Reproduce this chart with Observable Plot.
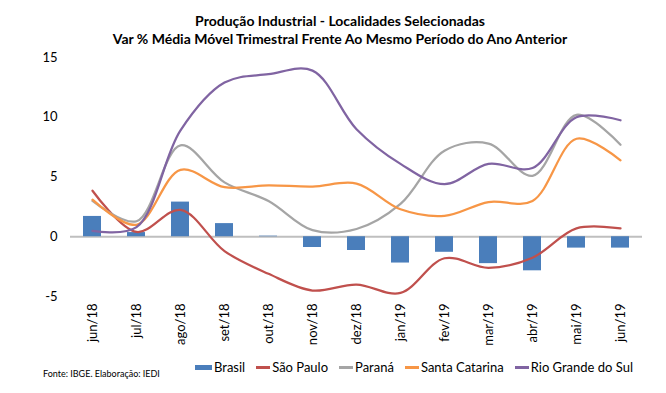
<!DOCTYPE html>
<html>
<head>
<meta charset="utf-8">
<script src="https://cdn.jsdelivr.net/npm/d3@7"></script>
<script src="https://cdn.jsdelivr.net/npm/@observablehq/plot@0.6"></script>
<style>
  html, body { margin: 0; padding: 0; background: #fff; }
  #wrap { position: relative; width: 666px; height: 393px; overflow: hidden; font-family: Lato, "Open Sans", sans-serif; color: #000; }
  #title { height: 48px; box-sizing: border-box; padding-top: 12px; text-align: center; font-weight: bold; font-size: 14px; line-height: 18px; padding-left: 14px; }
  #chart svg { display: block; }
  #foot { position: relative; height: 35px; }
  #fonte { position: absolute; left: 43px; top: 10px; font-size: 9px; }
  #legend { position: absolute; left: 195px; top: 1px; display: flex; align-items: center; font-size: 13px; }
  .item { display: flex; align-items: center; margin-right: 11px; }
  .sw { display: inline-block; margin-right: 2px; }
</style>
</head>
<body>
<div id="wrap">
  <div id="title">Produção Industrial - Localidades Selecionadas<br>Var % Média Móvel Trimestral Frente Ao Mesmo Período do Ano Anterior</div>
  <div id="chart"></div>
  <div id="foot">
    <div id="fonte">Fonte: IBGE. Elaboração: IEDI</div>
    <div id="legend"></div>
  </div>
</div>
<script>
const months = ["jun/18","jul/18","ago/18","set/18","out/18","nov/18","dez/18","jan/19","fev/19","mar/19","abr/19","mai/19","jun/19"];
const brasil = [1.7, 0.35, 2.9, 1.1, 0.05, -0.9, -1.15, -2.2, -1.3, -2.25, -2.85, -0.95, -0.95];
const saoPaulo = [3.85, 0.4, 2.25, -1.2, -3.1, -4.5, -4.0, -4.7, -1.8, -2.6, -1.75, 0.7, 0.7];
const parana = [3.0, 1.3, 7.65, 4.55, 3.0, 0.55, 0.65, 2.75, 7.2, 7.8, 5.1, 10.2, 7.7];
const santaCatarina = [3.1, 1.0, 5.6, 4.15, 4.3, 4.2, 4.45, 2.3, 1.75, 2.9, 3.0, 8.2, 6.4];
const rioGrandeDoSul = [0.5, 0.8, 8.9, 12.9, 13.6, 13.9, 9.0, 6.1, 4.4, 6.1, 5.75, 10.0, 9.75];
const yTicks = [-5, 0, 5, 10, 15];

const lineNames = ["São Paulo", "Paraná", "Santa Catarina", "Rio Grande do Sul"];
const lineValues = [saoPaulo, parana, santaCatarina, rioGrandeDoSul];
const lineColors = ["#c0504d", "#a5a5a5", "#f79646", "#8064a2"];
const barName = "Brasil";
const barColor = "#4a7ebb";

const barData = months.map((m, i) => ({month: m, value: brasil[i]}));
const lineData = [];
lineNames.forEach((n, k) => months.forEach((m, i) => lineData.push({name: n, month: m, value: lineValues[k][i]})));

const chart = Plot.plot({
  width: 666,
  height: 310,
  marginLeft: 70,
  marginRight: 24,
  marginTop: 9,
  marginBottom: 62,
  style: {fontFamily: "Lato, 'Open Sans', sans-serif", fontSize: "13px", color: "#000", background: "#fff"},
  x: {domain: months, type: "band", paddingInner: 0.6, paddingOuter: 0.3, label: null, tickSize: 0, tickPadding: 7, tickRotate: -90},
  y: {domain: [-5, 15], ticks: yTicks, tickFormat: d => String(d), label: null, tickSize: 0, tickPadding: 13},
  color: {domain: lineNames, range: lineColors},
  marks: [
    Plot.ruleY([0], {stroke: "#bfbfbf", strokeWidth: 2}),
    Plot.barY(barData, {x: "month", y: "value", fill: barColor}),
    Plot.line(lineData, {x: "month", y: "value", z: "name", stroke: "name", strokeWidth: 2.25, curve: "catmull-rom"})
  ]
});
document.getElementById("chart").appendChild(chart);

const legend = document.getElementById("legend");
const items = [{name: barName, color: barColor, bar: true}].concat(lineNames.map((n, i) => ({name: n, color: lineColors[i]})));
items.forEach(it => {
  const d = document.createElement("div");
  d.className = "item";
  const s = document.createElement("span");
  s.className = "sw";
  s.style.background = it.color;
  s.style.width = it.bar ? "17px" : "14px";
  s.style.height = it.bar ? "5px" : "3px";
  d.appendChild(s);
  const t = document.createElement("span");
  t.textContent = it.name;
  d.appendChild(t);
  legend.appendChild(d);
});
</script>
</body>
</html>
